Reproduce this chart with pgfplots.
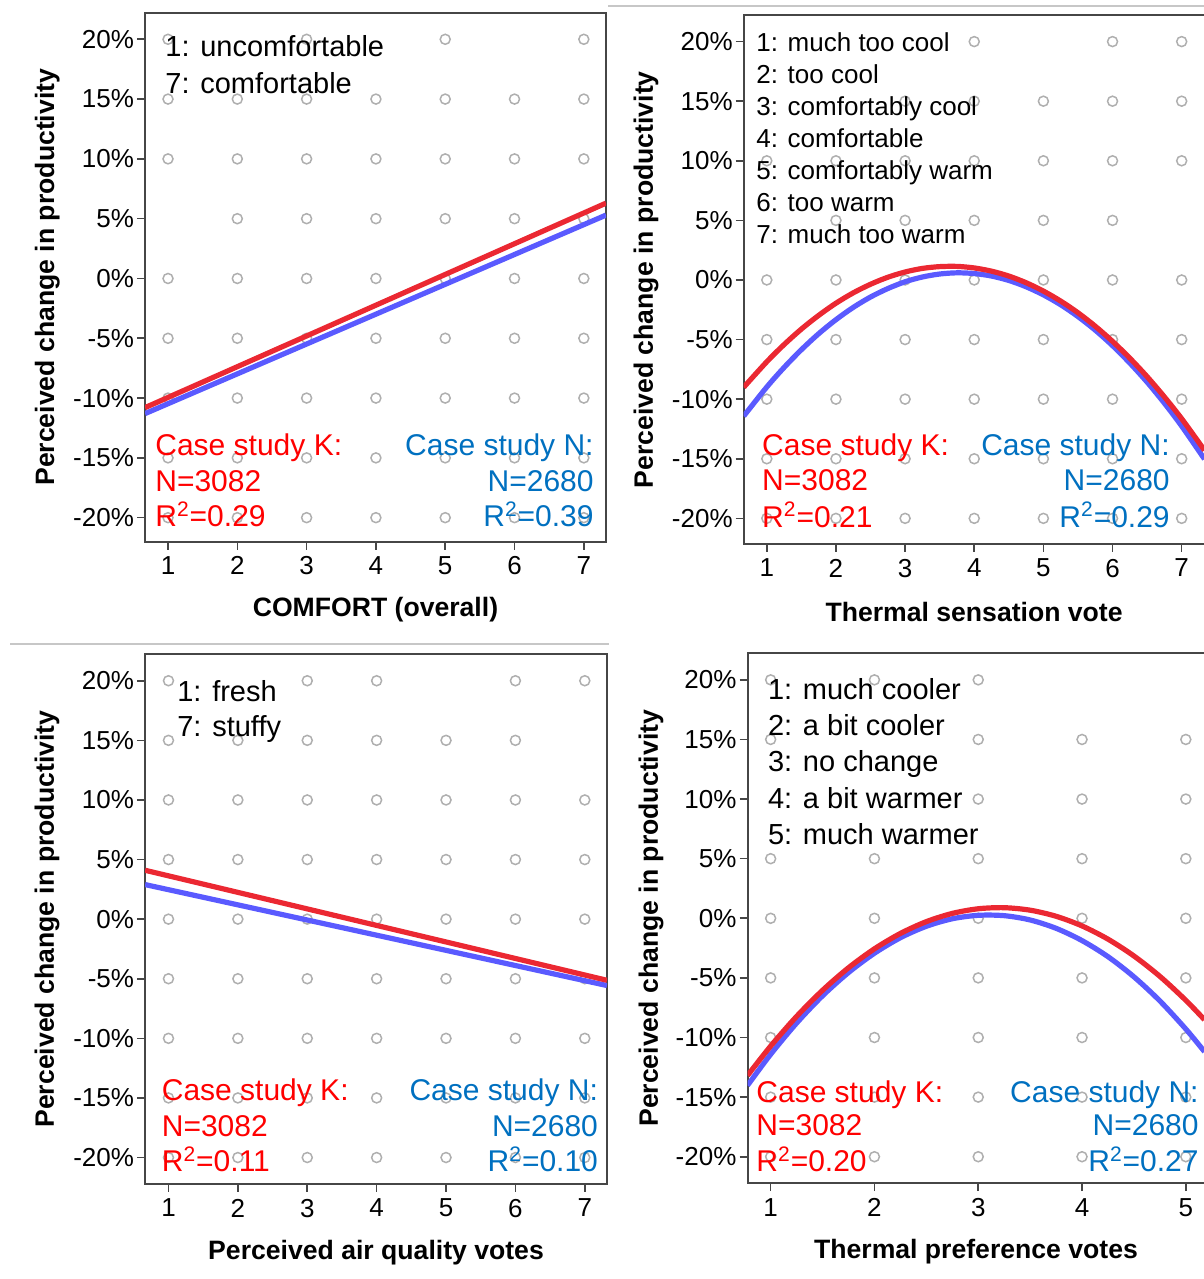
\documentclass[border=0pt]{standalone}
\usepackage{fontspec}
\setmainfont{Liberation Sans}
\usepackage{pgfplots}
\pgfplotsset{compat=1.18}

\definecolor{lred}{RGB}{235,40,50}
\definecolor{lblue}{RGB}{90,90,255}
\definecolor{tred}{RGB}{255,0,0}
\definecolor{tblue}{RGB}{0,112,192}
\definecolor{frame}{RGB}{70,70,70}
\definecolor{dot}{RGB}{175,175,175}

\pgfplotsset{
 panel/.style={
  scale only axis,
  axis line style={frame, line width=1pt},
  ytick={-20,-15,...,20},
  yticklabels={-20\%,-15\%,-10\%,-5\%,0\%,5\%,10\%,15\%,20\%},
  tick align=outside,
  xtick pos=bottom, ytick pos=left,
  major tick length=4pt,
  tick style={frame, line width=0.8pt},
  tick label style={font=\fontsize{13}{15}\selectfont},
  yticklabel style={xshift=2pt},
  /pgf/number format/assume math mode=true,
  label style={font=\fontsize{13.3}{16}\selectfont\bfseries},
  xlabel style={at={(axis description cs:0.5,-0.129)}, anchor=center},
  ylabel style={at={(axis description cs:-0.212,0.5)}, anchor=center},
  ylabel={Perceived change in productivity},
  clip mode=individual,
 },
 dots/.style={only marks, mark=o, mark size=2.5pt, mark options={draw=dot, line width=0.75pt}},
 kline/.style={lred, line width=2.6pt, smooth, no marks},
 nline/.style={lblue, line width=2.6pt, smooth, no marks},
}
\tikzset{
 lab/.style={anchor=base west, inner sep=0pt, font=\fontsize{14.5}{17}\selectfont},
 labs/.style={anchor=base west, inner sep=0pt, font=\fontsize{13}{15}\selectfont},
 kt/.style={anchor=base west, inner sep=0pt, text=tred, font=\fontsize{15}{18}\selectfont},
 nt/.style={anchor=base east, inner sep=0pt, text=tblue, font=\fontsize{15}{18}\selectfont},
}

\begin{document}
\begin{tikzpicture}
\path[use as bounding box] (0,0) rectangle (602pt,639.5pt);
\draw[black!22, line width=1pt] (304pt,636.6pt) -- (602pt,636.6pt);
\draw[black!22, line width=1pt] (5pt,317.5pt) -- (304.5pt,317.5pt);

% ---------- Panel 1: COMFORT ----------
\begin{axis}[panel, at={(72.5pt,368.7pt)}, anchor=south west,
  width=230.5pt, height=264.3pt,
  xmin=0.668, xmax=7.32, ymin=-22.0, ymax=22.2,
  xtick={1,...,7}, xlabel={COMFORT (overall)}]
\addplot[dots] coordinates {
 (1,20) (3,20) (5,20) (7,20)
 (1,15) (2,15) (3,15) (4,15) (5,15) (6,15) (7,15)
 (1,10) (2,10) (3,10) (4,10) (5,10) (6,10) (7,10)
 (2,5) (3,5) (4,5) (5,5) (6,5) (7,5)
 (1,0) (2,0) (3,0) (4,0) (5,0) (6,0) (7,0)
 (1,-5) (2,-5) (3,-5) (4,-5) (5,-5) (6,-5) (7,-5)
 (1,-10) (2,-10) (3,-10) (4,-10) (5,-10) (6,-10) (7,-10)
 (1,-15) (2,-15) (3,-15) (4,-15) (5,-15) (6,-15) (7,-15)
 (1,-20) (2,-20) (3,-20) (4,-20) (5,-20) (6,-20) (7,-20)};
\addplot[nline] coordinates {(0.668,-11.3) (7.32,5.3)};
\addplot[kline] coordinates {(0.668,-10.8) (7.32,6.3)};
\node[lab] at (axis cs:0.957,18.54) {1: uncomfortable};
\node[lab] at (axis cs:0.957,15.45) {7: comfortable};
\node[kt] at (axis cs:0.812,-14.76) {Case study K:};
\node[kt] at (axis cs:0.812,-17.77) {N=3082};
\node[kt] at (axis cs:0.812,-20.74) {R\textsuperscript{2}=0.29};
\node[nt] at (axis cs:7.147,-14.76) {Case study N:};
\node[nt] at (axis cs:7.147,-17.77) {N=2680};
\node[nt] at (axis cs:7.147,-20.74) {R\textsuperscript{2}=0.39};
\end{axis}

% ---------- Panel 2: Thermal sensation ----------
\begin{axis}[panel, at={(371.85pt,367.5pt)}, anchor=south west,
  width=230.4pt, height=264.25pt,
  xmin=0.666, xmax=7.33, ymin=-22.15, ymax=22.19,
  xtick={1,...,7}, xlabel={Thermal sensation vote}]
\addplot[dots] coordinates {
 (4,20) (6,20) (7,20)
 (3,15) (4,15) (5,15) (6,15) (7,15)
 (1,10) (2,10) (3,10) (4,10) (5,10) (6,10) (7,10)
 (2,5) (3,5) (4,5) (5,5) (6,5)
 (1,0) (2,0) (3,0) (4,0) (5,0) (6,0) (7,0)
 (1,-5) (2,-5) (3,-5) (4,-5) (5,-5) (6,-5) (7,-5)
 (1,-10) (2,-10) (3,-10) (4,-10) (5,-10) (6,-10) (7,-10)
 (1,-15) (2,-15) (3,-15) (4,-15) (5,-15) (6,-15) (7,-15)
 (1,-20) (2,-20) (3,-20) (4,-20) (5,-20) (6,-20) (7,-20)};
\addplot[nline] coordinates {(0.666,-11.42) (1.0,-8.98) (1.25,-7.34) (1.5,-5.85) (1.75,-4.51) (2.0,-3.33) (2.25,-2.30) (2.5,-1.43) (2.75,-0.72) (3.0,-0.15) (3.25,0.25) (3.5,0.50) (3.75,0.60) (4.0,0.54) (4.25,0.33) (4.5,-0.04) (4.75,-0.57) (5.0,-1.25) (5.25,-2.08) (5.5,-3.07) (5.75,-4.21) (6.0,-5.51) (6.25,-6.97) (6.5,-8.57) (6.75,-10.34) (7.0,-12.26) (7.33,-15.03)};
\addplot[kline] coordinates {(0.666,-9.00) (1.0,-6.86) (1.25,-5.42) (1.5,-4.12) (1.75,-2.97) (2.0,-1.95) (2.25,-1.08) (2.5,-0.36) (2.75,0.23) (3.0,0.67) (3.25,0.97) (3.5,1.12) (3.75,1.14) (4.0,1.01) (4.25,0.74) (4.5,0.33) (4.75,-0.23) (5.0,-0.93) (5.25,-1.77) (5.5,-2.75) (5.75,-3.88) (6.0,-5.15) (6.25,-6.56) (6.5,-8.11) (6.75,-9.81) (7.0,-11.64) (7.33,-14.29)};
\node[labs] at (axis cs:0.844,19.14) {1: much too cool};
\node[labs] at (axis cs:0.844,16.46) {2: too cool};
\node[labs] at (axis cs:0.844,13.77) {3: comfortably cool};
\node[labs] at (axis cs:0.844,11.09) {4: comfortable};
\node[labs] at (axis cs:0.844,8.40) {5: comfortably warm};
\node[labs] at (axis cs:0.844,5.72) {6: too warm};
\node[labs] at (axis cs:0.844,3.03) {7: much too warm};
\node[kt] at (axis cs:0.928,-14.69) {Case study K:};
\node[kt] at (axis cs:0.928,-17.70) {N=3082};
\node[kt] at (axis cs:0.928,-20.75) {R\textsuperscript{2}=0.21};
\node[nt] at (axis cs:6.832,-14.69) {Case study N:};
\node[nt] at (axis cs:6.832,-17.70) {N=2680};
\node[nt] at (axis cs:6.832,-20.75) {R\textsuperscript{2}=0.29};
\end{axis}

% ---------- Panel 3: Air quality ----------
\begin{axis}[panel, at={(72.55pt,47.5pt)}, anchor=south west,
  width=230.95pt, height=264.85pt,
  xmin=0.663, xmax=7.32, ymin=-22.22, ymax=22.22,
  xtick={1,...,7}, xlabel={Perceived air quality votes}]
\addplot[dots] coordinates {
 (1,20) (3,20) (4,20) (6,20) (7,20)
 (1,15) (2,15) (3,15) (4,15) (5,15) (6,15)
 (1,10) (2,10) (3,10) (4,10) (5,10) (6,10) (7,10)
 (1,5) (2,5) (3,5) (4,5) (5,5) (6,5) (7,5)
 (1,0) (2,0) (3,0) (4,0) (5,0) (6,0) (7,0)
 (1,-5) (2,-5) (3,-5) (4,-5) (5,-5) (6,-5) (7,-5)
 (1,-10) (2,-10) (3,-10) (4,-10) (5,-10) (6,-10) (7,-10)
 (1,-15) (2,-15) (3,-15) (4,-15) (5,-15) (6,-15) (7,-15)
 (1,-20) (2,-20) (3,-20) (4,-20) (5,-20) (6,-20) (7,-20)};
\addplot[nline] coordinates {(0.663,2.9) (7.32,-5.57)};
\addplot[kline] coordinates {(0.663,4.1) (7.32,-5.13)};
\node[lab] at (axis cs:1.122,18.29) {1: fresh};
\node[lab] at (axis cs:1.122,15.31) {7: stuffy};
\node[kt] at (axis cs:0.899,-15.21) {Case study K:};
\node[kt] at (axis cs:0.899,-18.22) {N=3082};
\node[kt] at (axis cs:0.899,-21.2) {R\textsuperscript{2}=0.11};
\node[nt] at (axis cs:7.195,-15.21) {Case study N:};
\node[nt] at (axis cs:7.195,-18.22) {N=2680};
\node[nt] at (axis cs:7.195,-21.2) {R\textsuperscript{2}=0.10};
\end{axis}

% ---------- Panel 4: Thermal preference ----------
\begin{axis}[panel, at={(373.75pt,47.9pt)}, anchor=south west,
  width=228.5pt, height=264.9pt,
  xmin=0.777, xmax=5.18, ymin=-22.22, ymax=22.22,
  xtick={1,...,5}, xlabel={Thermal preference votes},
  ylabel style={at={(axis description cs:-0.211,0.5)}}]
\addplot[dots] coordinates {
 (1,20) (2,20) (3,20)
 (1,15) (3,15) (4,15) (5,15)
 (3,10) (4,10) (5,10)
 (1,5) (2,5) (3,5) (4,5) (5,5)
 (1,0) (2,0) (3,0) (4,0) (5,0)
 (1,-5) (2,-5) (3,-5) (4,-5) (5,-5)
 (1,-10) (2,-10) (3,-10) (4,-10) (5,-10)
 (1,-15) (2,-15) (3,-15) (4,-15) (5,-15)
 (1,-20) (2,-20) (3,-20) (4,-20) (5,-20)};
\addplot[nline] coordinates {(0.777,-14.02) (1.0,-11.41) (1.25,-8.79) (1.5,-6.50) (1.75,-4.55) (2.0,-2.93) (2.25,-1.63) (2.5,-0.67) (2.75,-0.04) (3.0,0.25) (3.25,0.22) (3.5,-0.14) (3.75,-0.84) (4.0,-1.87) (4.25,-3.22) (4.5,-4.91) (4.75,-6.93) (5.0,-9.29) (5.18,-11.19)};
\addplot[kline] coordinates {(0.777,-13.19) (1.0,-10.72) (1.25,-8.23) (1.5,-6.04) (1.75,-4.15) (2.0,-2.56) (2.25,-1.27) (2.5,-0.28) (2.75,0.41) (3.0,0.80) (3.25,0.89) (3.5,0.68) (3.75,0.17) (4.0,-0.64) (4.25,-1.75) (4.5,-3.16) (4.75,-4.87) (5.0,-6.88) (5.18,-8.51)};
\node[lab] at (axis cs:0.971,18.39) {1: much cooler};
\node[lab] at (axis cs:0.971,15.34) {2: a bit cooler};
\node[lab] at (axis cs:0.971,12.28) {3: no change};
\node[lab] at (axis cs:0.971,9.23) {4: a bit warmer};
\node[lab] at (axis cs:0.971,6.17) {5: much warmer};
\node[kt] at (axis cs:0.859,-15.45) {Case study K:};
\node[kt] at (axis cs:0.859,-18.19) {N=3082};
\node[kt] at (axis cs:0.859,-21.27) {R\textsuperscript{2}=0.20};
\node[nt] at (axis cs:5.127,-15.45) {Case study N:};
\node[nt] at (axis cs:5.127,-18.19) {N=2680};
\node[nt] at (axis cs:5.127,-21.27) {R\textsuperscript{2}=0.27};
\end{axis}
\end{tikzpicture}
\end{document}
